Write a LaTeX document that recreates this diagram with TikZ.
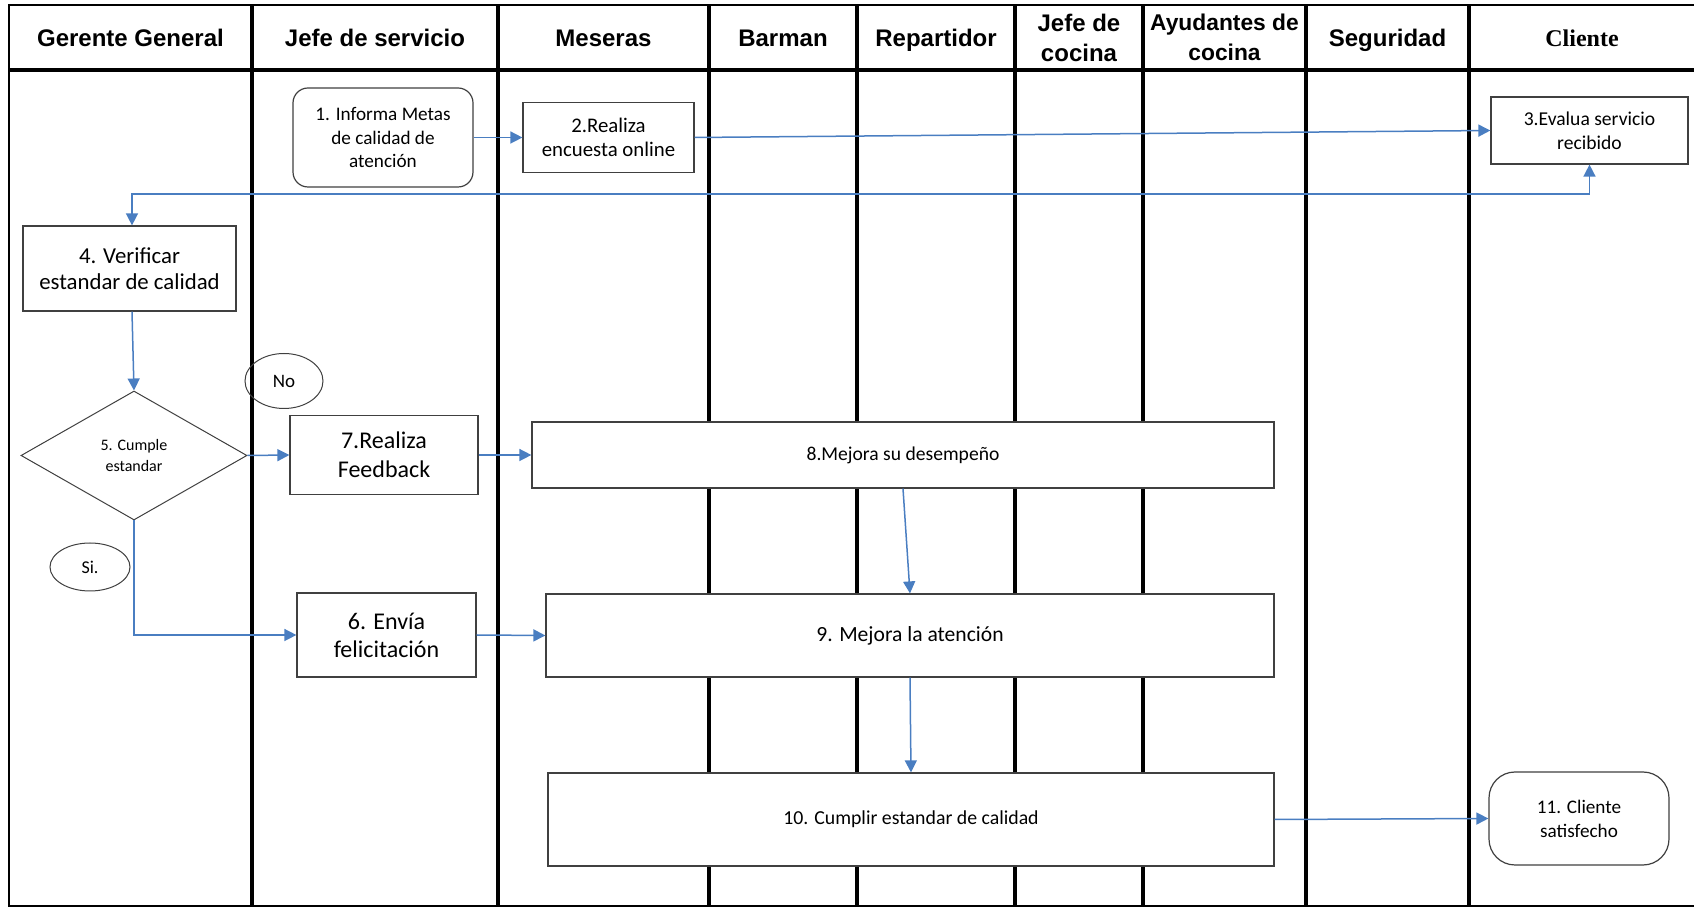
\documentclass[tikz,border=0pt]{standalone}
\usepackage{fontspec}
\setmainfont{Carlito}
\newfontfamily\headfont{Liberation Sans}
\newfontfamily\clientfont{Liberation Serif}
\usepackage{xcolor}
\usetikzlibrary{arrows.meta,shapes.geometric}

\definecolor{flowblue}{RGB}{74,126,193}
\definecolor{boxgray}{RGB}{64,64,64}

\tikzset{
  lanehead/.style={font=\headfont\bfseries\fontsize{12}{15}\selectfont, align=center, inner sep=0pt},
  laneone/.style={lanehead, text height=8.6pt, text depth=0pt},
  procbox/.style={draw=boxgray, line width=0.6pt, fill=white, align=center, inner sep=0pt},
  termbox/.style={procbox, rounded corners=7.5pt},
  decbox/.style={diamond, draw=boxgray, line width=0.5pt, fill=white, align=center, inner sep=0pt},
  tagbox/.style={ellipse, draw=boxgray, line width=0.5pt, inner sep=0pt},
  flow/.style={draw=flowblue, line width=0.75pt, -{Triangle[length=6pt,width=6pt]}},
  flowboth/.style={flow, {Triangle[length=6pt,width=6pt]}-{Triangle[length=6pt,width=6pt]}},
  laneline/.style={line width=1.7pt},
}

\begin{document}
\begin{tikzpicture}[x=0.5pt,y=-0.5pt]
\useasboundingbox (0,0) rectangle (1694,908);

% Frame and lanes
\draw[line width=1pt] (1694,5) -- (9,5) -- (9,906) -- (1694,906);
\draw[line width=2pt] (9,70) -- (1694,70);
\foreach \x in {252,498,709,857,1015,1143,1306,1469}
  \draw[laneline] (\x,5) -- (\x,906);

% Lane headers
\node[laneone] (h1) at (130.5,38) {Gerente General};
\node[laneone] (h2) at (375,38) {Jefe de servicio};
\node[laneone] (h3) at (603.5,38) {Meseras};
\node[laneone] (h4) at (783,38) {Barman};
\node[laneone] (h5) at (936,38) {Repartidor};
\node[lanehead] (h6) at (1079,37.5) {Jefe de\\cocina};
\node[lanehead, font=\headfont\bfseries\fontsize{11.4}{15}\selectfont] (h7) at (1224.5,37.5) {Ayudantes de\\cocina};
\node[laneone] (h8) at (1387.5,38) {Seguridad};
\node[laneone, font=\clientfont\bfseries\fontsize{12}{15}\selectfont] (h9) at (1582,38) {Cliente};

% Steps
\node[termbox, minimum width=90pt, minimum height=49.5pt, font=\fontsize{9.6}{11.75}\selectfont] (s1) at (383,137.5) {1. Informa Metas\\de calidad de\\atención};
\node[procbox, minimum width=85.5pt, minimum height=35pt, font=\fontsize{10.4}{12}\selectfont] (s2) at (608.5,137.5) {2.Realiza\\encuesta online};
\node[procbox, minimum width=98.5pt, minimum height=33.5pt, font=\fontsize{9.8}{12}\selectfont] (s3) at (1589.5,130.5) {3.Evalua servicio\\recibido};
\node[procbox, minimum width=106.5pt, minimum height=42.5pt, font=\fontsize{11.4}{13}\selectfont] (s4) at (129.5,268.5) {4. Verificar\\estandar de calidad};
\node[decbox, minimum width=113pt, minimum height=64.5pt, font=\fontsize{8}{10.5}\selectfont] (s5) at (134,455.5) {5. Cumple\\estandar};
\node[tagbox, minimum width=39pt, minimum height=27.5pt, font=\fontsize{9.5}{11}\selectfont] (no) at (284,381) {No};
\node[procbox, minimum width=94pt, minimum height=39.5pt, font=\fontsize{12}{14.5}\selectfont] (s7) at (384,455) {7.Realiza\\Feedback};
\node[tagbox, minimum width=40pt, minimum height=24pt, font=\fontsize{9}{11}\selectfont] (si) at (90,567) {Si.};
\node[procbox, minimum width=89.5pt, minimum height=42pt, font=\fontsize{12}{14}\selectfont] (s6) at (386.5,635) {6. Envía\\felicitación};
\node[procbox, minimum width=371pt, minimum height=33pt, font=\fontsize{9.8}{11}\selectfont] (s8) at (903,455) {8.Mejora su desempeño};
\node[procbox, minimum width=364pt, minimum height=41.5pt, font=\fontsize{10.8}{13}\selectfont] (s9) at (910,635.5) {9. Mejora la atención};
\node[procbox, minimum width=363pt, minimum height=46.5pt, font=\fontsize{9.9}{11}\selectfont] (s10) at (911,819.5) {10. Cumplir estandar de calidad};
\node[procbox, rounded corners=13pt, minimum width=90pt, minimum height=46.5pt, font=\fontsize{9.6}{12}\selectfont] (s11) at (1579,818.5) {11. Cliente\\satisfecho};

% Connectors
\coordinate (r2) at (132,194);
\draw[flow] (s1) -- (s2);
\draw[flow] (s2.east) -- (s3.west);
\draw[flowboth] (s3.south) |- (r2) -- (r2 |- s4.north);
\draw[flow] (r2 |- s4.south) -- (s5.north);
\draw[flow] (s5.east) -- (s7.west);
\draw[flow] (s7.east) -- (s8.west);
\draw[flow] (s5.south) |- (s6.west);
\draw[flow] (s6.east) -- (s9.west);
\draw[flow] (s8.south) -- (s9.north);
\draw[flow] (s9.south) -- (s10.north);
\draw[flow] (s10.east) -- (s11.west);
\end{tikzpicture}
\end{document}
